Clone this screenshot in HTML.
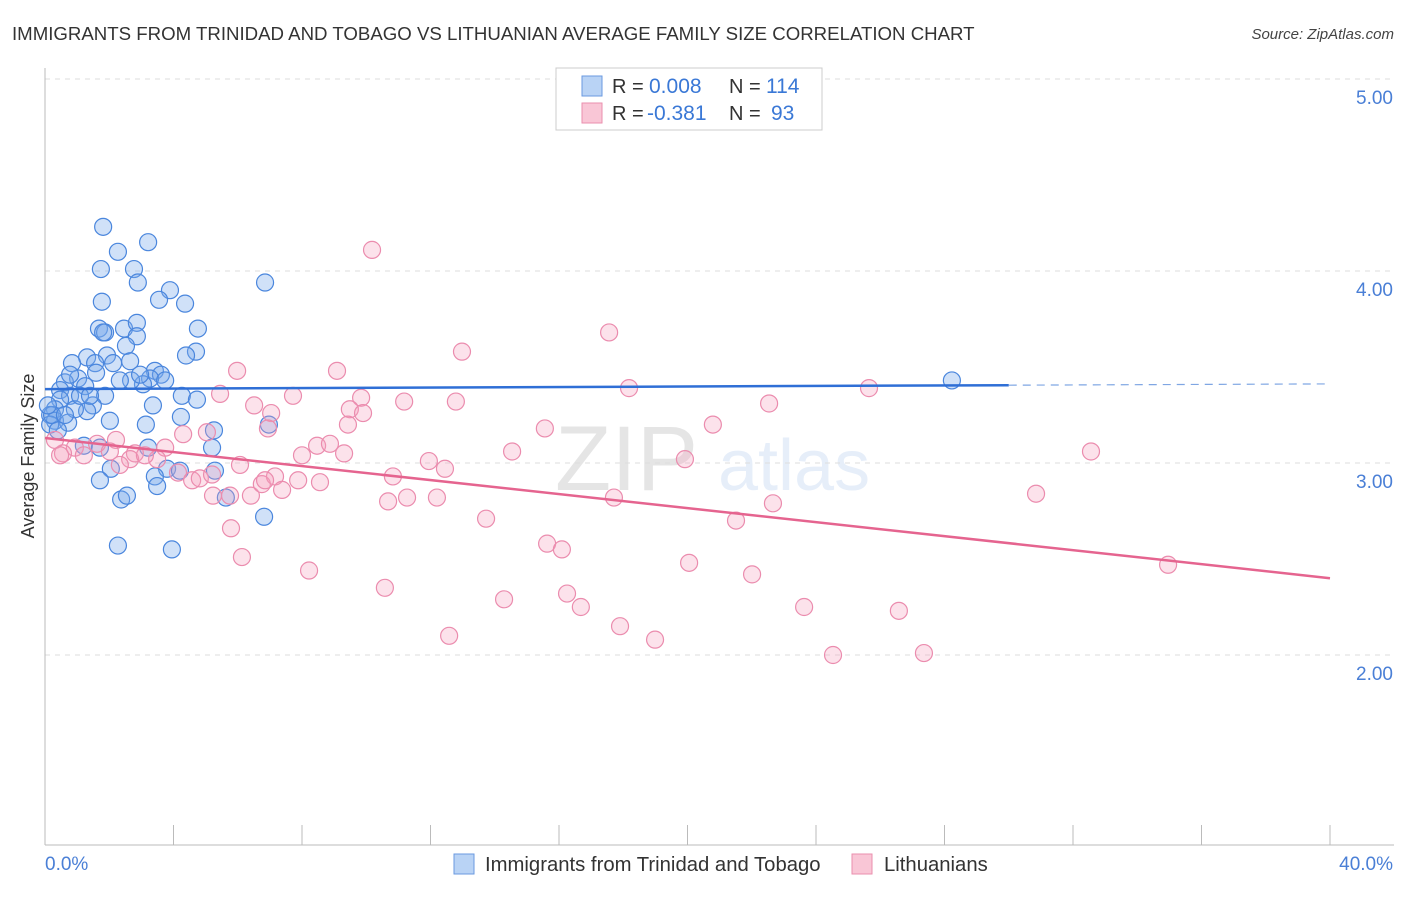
<!DOCTYPE html>
<html><head><meta charset="utf-8"><style>
body{margin:0;background:#fff;font-family:"Liberation Sans",sans-serif;}
svg text{font-family:"Liberation Sans",sans-serif;}
</style></head><body>
<svg id="chart" width="1406" height="892" xmlns="http://www.w3.org/2000/svg">
<text x="12" y="40" font-size="18.65" fill="#333">IMMIGRANTS FROM TRINIDAD AND TOBAGO VS LITHUANIAN AVERAGE FAMILY SIZE CORRELATION CHART</text>
<text x="1394" y="39" font-size="15" fill="#444" font-style="italic" text-anchor="end">Source: ZipAtlas.com</text>
<g opacity="0.12"><text x="555" y="490" font-size="92" font-family="Liberation Serif" fill="#333">ZIP</text><text x="718" y="490" font-size="72" fill="#3a78d6">atlas</text></g>
<g id="grid"></g>
<g id="axes"></g>
<g id="blue"></g>
<g id="pink"></g>
<g id="trends"></g>
<text transform="translate(34,456) rotate(-90)" font-size="18" fill="#333" text-anchor="middle">Average Family Size</text>
<text x="45" y="870" font-size="19" fill="#4a7fd6">0.0%</text>
<text x="1393" y="870" font-size="19" fill="#4a7fd6" text-anchor="end">40.0%</text>
<g>
<rect x="556" y="68" width="266" height="62" fill="#fff" stroke="#ccc"/>
<rect x="582" y="76" width="20" height="20" fill="#b9d3f5" stroke="#6a9ae0"/>
<rect x="582" y="103" width="20" height="20" fill="#f9c6d6" stroke="#ea8fae"/>
<text x="612" y="93" font-size="20" fill="#333">R =</text>
<text x="649" y="93" font-size="21" fill="#3a78d6">0.008</text>
<text x="729" y="93" font-size="20" fill="#333">N =</text>
<text x="766" y="93" font-size="21" fill="#3a78d6">114</text>
<text x="612" y="120" font-size="20" fill="#333">R =</text>
<text x="647" y="120" font-size="21" fill="#3a78d6">-0.381</text>
<text x="729" y="120" font-size="20" fill="#333">N =</text>
<text x="771" y="120" font-size="21" fill="#3a78d6">93</text>
</g>
<g>
<rect x="454" y="854" width="20" height="20" fill="#b9d3f5" stroke="#6a9ae0"/>
<text x="485" y="871" font-size="20.3" fill="#333">Immigrants from Trinidad and Tobago</text>
<rect x="852" y="854" width="20" height="20" fill="#f9c6d6" stroke="#ea8fae"/>
<text x="884" y="871" font-size="20.3" fill="#333">Lithuanians</text>
</g>
</svg>
<script>
const yTicks=[2,3,4,5];
const yTickLabels=["2.00","3.00","4.00","5.00"];
const xTicks=[0,4,8,12,16,20,24,28,32,36,40];
const blueX=[1.81,2.27,3.21,1.74,2.77,2.89,3.89,1.77,3.55,4.36,6.85,1.68,2.46,1.87,2.86,4.76,2.86,1.81,4.70,4.39,2.52,1.93,1.31,0.84,1.56,2.65,2.12,3.42,3.61,3.27,3.05,2.68,1.59,1.03,0.62,0.47,1.25,1.87,1.49,0.78,0.47,0.31,0.16,0.31,0.72,1.31,2.02,3.36,4.26,4.73,4.23,5.26,3.14,1.21,1.71,3.21,5.20,6.97,2.05,3.80,3.42,3.49,2.37,2.55,5.63,6.82,2.27,3.95,28.23,0.16,0.22,0.09,0.93,0.62,1.09,1.40,2.33,2.96,3.74,0.78,0.40,1.71,4.20,5.29];
const blueY=[4.23,4.10,4.15,4.01,4.01,3.94,3.90,3.84,3.85,3.83,3.94,3.70,3.70,3.68,3.73,3.70,3.66,3.68,3.58,3.56,3.61,3.56,3.55,3.52,3.52,3.53,3.52,3.48,3.46,3.44,3.41,3.43,3.47,3.44,3.42,3.38,3.40,3.35,3.30,3.35,3.33,3.28,3.25,3.22,3.21,3.27,3.22,3.30,3.35,3.33,3.24,3.17,3.20,3.09,3.08,3.08,3.08,3.20,2.97,2.97,2.93,2.88,2.81,2.83,2.82,2.72,2.57,2.55,3.43,3.20,3.25,3.30,3.28,3.25,3.35,3.35,3.43,3.46,3.43,3.46,3.17,2.91,2.96,2.96];
const pinkX=[10.18,17.56,12.98,18.18,25.65,5.98,9.09,5.45,7.72,9.84,11.18,12.79,22.54,6.51,7.04,9.49,9.90,4.30,5.04,6.94,9.43,15.56,20.79,2.21,1.62,2.80,0.93,0.56,0.31,3.74,3.49,4.14,4.58,4.82,5.23,5.76,6.41,6.75,7.16,7.38,7.88,8.56,8.00,8.47,8.87,9.31,10.83,11.95,12.45,14.54,19.92,32.56,30.85,5.20,10.68,11.27,12.20,17.71,13.73,21.51,22.66,5.79,15.63,16.09,6.13,20.05,8.22,22.01,34.96,10.58,14.29,16.25,16.68,17.90,23.63,26.58,12.58,18.99,24.53,27.36,2.65,3.11,6.07,6.85,2.02,1.21,0.47,2.33];
const pinkY=[4.11,3.68,3.58,3.39,3.39,3.48,3.48,3.36,3.35,3.34,3.32,3.32,3.31,3.30,3.26,3.28,3.26,3.15,3.16,3.18,3.20,3.18,3.20,3.12,3.10,3.05,3.08,3.05,3.12,3.08,3.02,2.95,2.91,2.92,2.83,2.83,2.83,2.89,2.93,2.86,2.91,2.90,3.04,3.09,3.10,3.05,2.93,3.01,2.97,3.06,3.02,3.06,2.84,2.94,2.80,2.82,2.82,2.82,2.71,2.70,2.79,2.66,2.58,2.55,2.51,2.48,2.44,2.42,2.47,2.35,2.29,2.32,2.25,2.15,2.25,2.23,2.10,2.08,2.00,2.01,3.02,3.04,2.99,2.91,3.06,3.04,3.04,2.99];
const blueTrend=[3.385,3.412];
const pinkTrend=[3.13,2.40];
const NS="http://www.w3.org/2000/svg";
const X=v=>45+v/40*1285, Y=v=>79+(5-v)*192;
function mk(p,t,a){const e=document.createElementNS(NS,t);for(const k in a)e.setAttribute(k,a[k]);document.getElementById(p).appendChild(e);return e;}
yTicks.forEach((t,i)=>{
 const g=mk('grid','line',{x1:45,x2:1394,y1:Y(t),y2:Y(t),stroke:'#ddd','stroke-dasharray':'5,5'});
 
 
 const l=mk('grid','text',{x:1393,y:Y(t)+25,'font-size':19,fill:'#4a7fd6','text-anchor':'end'});
 l.textContent=yTickLabels[i];
 
 
});
{const a=mk('axes','line',{x1:45,x2:45,y1:68,y2:845,stroke:'#bbb'});
 const b=mk('axes','line',{x1:45,x2:1394,y1:845,y2:845,stroke:'#bbb'});}
xTicks.forEach(t=>{const e=mk('axes','line',{x1:X(t),x2:X(t),y1:825,y2:845,stroke:'#bbb'});
 
 });
blueX.forEach((v,i)=>{const c=mk('blue','circle',{cx:X(v),cy:Y(blueY[i]),r:8.5,fill:'rgba(120,170,235,0.35)',stroke:'#4a86dd','stroke-width':1.2});
 
 });
pinkX.forEach((v,i)=>{const c=mk('pink','circle',{cx:X(v),cy:Y(pinkY[i]),r:8.5,fill:'rgba(245,160,190,0.3)',stroke:'#eb8cae','stroke-width':1.2});
 
 });
const bAt=x=>blueTrend[0]+(blueTrend[1]-blueTrend[0])*x/40;
{const a=mk('trends','line',{x1:X(0),y1:Y(bAt(0)),x2:X(30),y2:Y(bAt(30)),stroke:'#2f6fd6','stroke-width':2.5});
 const b=mk('trends','line',{x1:X(30),y1:Y(bAt(30)),x2:X(40),y2:Y(bAt(40)),stroke:'#7fa6e3','stroke-width':1.2,'stroke-dasharray':'8,6'});
 const c=mk('trends','line',{x1:X(0),y1:Y(pinkTrend[0]),x2:X(40),y2:Y(pinkTrend[1]),stroke:'#e5648f','stroke-width':2.5});}
</script>
</body></html>
